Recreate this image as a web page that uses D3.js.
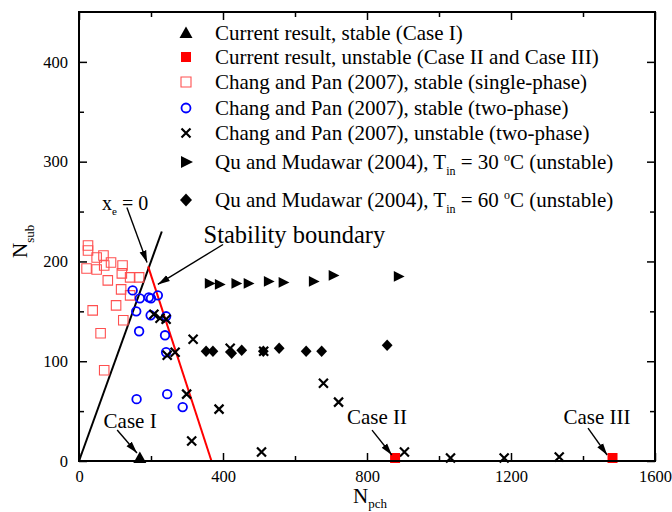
<!DOCTYPE html>
<html>
<head>
<meta charset="utf-8">
<script src="https://cdn.jsdelivr.net/npm/d3@7"></script>
<style>
body { margin: 0; background: #fff; }
text { font-family: "Liberation Serif", "Times New Roman", serif; fill: #000; }
</style>
</head>
<body>
<svg id="chart" width="672" height="512"></svg>
<script>
// ---- data ----
const xTicks = [0, 400, 800, 1200, 1600]
const yTicks = [0, 100, 200, 300, 400]

const currentStable = [[169, 3]]
const currentUnstable = [[878, 3], [1482, 3]]
const changStableSingle = [
    [25, 216], [25, 211], [21, 193], [49, 204], [49, 192], [68, 206], [70, 196],
    [89, 199], [80, 181], [121, 196], [119, 188], [142, 184], [167, 184], [117, 172],
    [142, 166], [103, 156], [38, 151], [123, 141], [60, 128], [70, 91]
]
const changStableTwo = [
    [149, 171], [169, 163], [194, 164], [200, 163], [219, 166], [159, 150], [199, 146],
    [242, 145], [167, 130], [239, 126], [242, 109], [160, 62], [245, 67], [288, 54]
]
const changUnstableTwo = [
    [208, 147], [225, 143], [242, 142], [245, 106], [267, 109], [317, 122], [299, 67],
    [389, 52], [313, 20], [507, 9], [420, 113], [513, 110], [679, 78], [721, 59],
    [904, 9], [1032, 3], [1181, 3], [1334, 4]
]
const quMudawar30 = [
    [362, 178], [390, 177], [436, 178], [470, 178], [526, 180], [567, 179],
    [651, 180], [706, 186], [887, 185]
]
const quMudawar60 = [
    [353, 110], [372, 110], [424, 108], [452, 111], [512, 110], [556, 113],
    [631, 110], [674, 110], [856, 116]
]
const xeZeroLine = [[0, 0], [230, 230]]
const stabilityLine = [[192, 195], [368, 0]]

const legendLabels = [
    [["Current result, stable (Case I)"]],
    [["Current result, unstable (Case II and Case III)"]],
    [["Chang and Pan (2007), stable (single-phase)"]],
    [["Chang and Pan (2007), stable (two-phase)"]],
    [["Chang and Pan (2007), unstable (two-phase)"]],
    [["Qu and Mudawar (2004), T"], ["in", "sub"], [" = 30 "], ["o", "sup"], ["C (unstable)"]],
    [["Qu and Mudawar (2004), T"], ["in", "sub"], [" = 60 "], ["o", "sup"], ["C (unstable)"]]
]

// annotations: text anchor + arrow (from -> to), in data units
const annotations = [
    { text: [["x"], ["e", "sub"], [" = 0"]], at: [64, 252], anchor: "start", size: 20, from: [133, 254], to: [189, 199] },
    { text: [["Stability boundary"]], at: [346, 218], anchor: "start", size: 24.5, from: [400, 217], to: [219, 177] },
    { text: [["Case I"]], at: [142, 33], anchor: "middle", size: 21, from: [106, 31], to: [161, 8] },
    { text: [["Case II"]], at: [828, 37], anchor: "middle", size: 21, from: [814, 31], to: [869, 6] },
    { text: [["Case III"]], at: [1439, 37], anchor: "middle", size: 21, from: [1414, 33], to: [1467, 6] }
]

// ---- layout ----
const svg = d3.select("#chart")
const margins = { left: 79, right: 17, top: 12, bottom: 51 }
const svgWidth = 672
const svgHeight = 512

const xScale = d3.scaleLinear().domain([0, 1600]).range([margins.left, svgWidth - margins.right])
const yScale = d3.scaleLinear().domain([0, 450]).range([svgHeight - margins.bottom, margins.top])

const shapes = {
    triUp: "M0,-6.5L6.5,5L-6.5,5Z",
    triRight: "M-5,-6L7,0L-5,6Z",
    square: "M-5,-5H5V5H-5Z",
    diamond: "M0,-6.5L6,0L0,6.5L-6,0Z",
    cross: "M-4.5,-4.5L4.5,4.5M-4.5,4.5L4.5,-4.5"
}

// writes text segments, shifting sub/superscripts and returning to the baseline after them
function addText(sel, parts, smallSize, subShift = 6, supShift = 8) {
    let back = 0
    parts.forEach(([t, mode]) => {
        const ts = sel.append("tspan").text(t)
        let shift = 0
        if (mode === "sub") shift = subShift
        if (mode === "sup") shift = -supShift
        if (shift + back !== 0) ts.attr("dy", shift + back)
        if (mode) ts.attr("font-size", smallSize)
        back = -shift
    })
}

// lines
const line = d3.line().x(d => xScale(d[0])).y(d => yScale(d[1]))
svg.append("path").datum(xeZeroLine).attr("d", line)
    .attr("stroke", "black").attr("stroke-width", 2).attr("fill", "none")
svg.append("path").datum(stabilityLine).attr("d", line)
    .attr("stroke", "#ff0000").attr("stroke-width", 2).attr("fill", "none")

// series
const series = [
    { data: changStableSingle, shape: "square", fill: "none", stroke: "#ff5050", sw: 1.1, scale: 0.95 },
    { data: changStableTwo, shape: "circle", fill: "none", stroke: "#0000ff", sw: 1.8 },
    { data: changUnstableTwo, shape: "cross", fill: "none", stroke: "black", sw: 2.2 },
    { data: quMudawar30, shape: "triRight", fill: "black", stroke: "none", sw: 0, scale: 0.9 },
    { data: quMudawar60, shape: "diamond", fill: "black", stroke: "none", sw: 0, scale: 0.9 },
    { data: currentStable, shape: "triUp", fill: "black", stroke: "none", sw: 0 },
    { data: currentUnstable, shape: "square", fill: "#ff0000", stroke: "none", sw: 0 }
]

series.forEach((s, index) => {
    const g = svg.append("g").attr("class", `series-${index}`)
    if (s.shape === "circle") {
        g.selectAll("circle").data(s.data).enter().append("circle")
            .attr("cx", d => xScale(d[0])).attr("cy", d => yScale(d[1]))
            .attr("r", 4.3).attr("fill", "none").attr("stroke", s.stroke).attr("stroke-width", s.sw)
    } else {
        g.selectAll("path").data(s.data).enter().append("path")
            .attr("d", shapes[s.shape])
            .attr("transform", d => `translate(${xScale(d[0])},${yScale(d[1])}) scale(${s.scale || 1})`)
            .attr("fill", s.fill).attr("stroke", s.stroke).attr("stroke-width", s.sw / (s.scale || 1))
    }
})

// arrowhead
svg.append("defs").append("marker")
    .attr("id", "arrow").attr("viewBox", "0 -4 12 8").attr("refX", 12).attr("refY", 0)
    .attr("markerWidth", 12).attr("markerHeight", 8).attr("markerUnits", "userSpaceOnUse")
    .attr("orient", "auto")
    .append("path").attr("d", "M0,-3.5L12,0L0,3.5Z").attr("fill", "black")

annotations.forEach(a => {
    svg.append("line")
        .attr("x1", xScale(a.from[0])).attr("y1", yScale(a.from[1]))
        .attr("x2", xScale(a.to[0])).attr("y2", yScale(a.to[1]))
        .attr("stroke", "black").attr("stroke-width", 1.4).attr("marker-end", "url(#arrow)")
    const t = svg.append("text")
        .attr("x", xScale(a.at[0])).attr("y", yScale(a.at[1]))
        .attr("text-anchor", a.anchor).attr("font-size", a.size)
    addText(t, a.text, 11, 5)
})

// axes with inward ticks, mirrored on top and right
const plotBottom = yScale(0)
const plotTop = yScale(450)
const plotLeft = xScale(0)
const plotRight = xScale(1600)

const fmt = d3.format("d")
const minorX = d3.range(200, 1600, 400)
const minorY = d3.range(50, 450, 100)

svg.append("g").attr("transform", `translate(0,${plotBottom})`)
    .call(d3.axisBottom(xScale).tickValues(xTicks).tickSizeInner(-8).tickSizeOuter(0).tickPadding(9.5).tickFormat(fmt))
svg.append("g").attr("transform", `translate(0,${plotBottom})`)
    .call(d3.axisBottom(xScale).tickValues(minorX).tickSizeInner(-5).tickSizeOuter(0).tickFormat(""))
svg.append("g").attr("transform", `translate(0,${plotTop})`)
    .call(d3.axisTop(xScale).tickValues(xTicks).tickSizeInner(-8).tickSizeOuter(0).tickFormat(""))
svg.append("g").attr("transform", `translate(0,${plotTop})`)
    .call(d3.axisTop(xScale).tickValues(minorX).tickSizeInner(-5).tickSizeOuter(0).tickFormat(""))

svg.append("g").attr("transform", `translate(${plotLeft},0)`)
    .call(d3.axisLeft(yScale).tickValues(yTicks).tickSizeInner(-8).tickSizeOuter(0).tickPadding(11).tickFormat(fmt))
svg.append("g").attr("transform", `translate(${plotLeft},0)`)
    .call(d3.axisLeft(yScale).tickValues(minorY).tickSizeInner(-5).tickSizeOuter(0).tickFormat(""))
svg.append("g").attr("transform", `translate(${plotRight},0)`)
    .call(d3.axisRight(yScale).tickValues(yTicks).tickSizeInner(-8).tickSizeOuter(0).tickFormat(""))
svg.append("g").attr("transform", `translate(${plotRight},0)`)
    .call(d3.axisRight(yScale).tickValues(minorY).tickSizeInner(-5).tickSizeOuter(0).tickFormat(""))

svg.selectAll(".domain").remove()
svg.selectAll(".tick line").attr("stroke", "black").attr("stroke-width", 1.5)
svg.selectAll(".tick text")
    .attr("font-family", "'Liberation Serif', 'Times New Roman', serif")
    .attr("font-size", 16.5).attr("fill", "black")

// frame
svg.append("rect")
    .attr("x", plotLeft).attr("y", plotTop)
    .attr("width", plotRight - plotLeft).attr("height", plotBottom - plotTop)
    .attr("fill", "none").attr("stroke", "black").attr("stroke-width", 2)

// axis titles
const xTitle = svg.append("text").attr("x", 353).attr("y", 503).attr("font-size", 21)
addText(xTitle, [["N"], ["pch", "sub"]], 13, 5)
const yTitle = svg.append("text").attr("transform", "translate(27,258) rotate(-90)").attr("font-size", 21)
addText(yTitle, [["N"], ["sub", "sub"]], 13, 7)

// legend
const legendX = 186
const legendTextX = 215
const legendRows = [33, 57, 82, 108, 133, 162, 200]
const legendMarks = [
    { shape: "triUp", fill: "black", stroke: "none" },
    { shape: "square", fill: "#ff0000", stroke: "none" },
    { shape: "square", fill: "none", stroke: "#ff5050" },
    { shape: "circle" },
    { shape: "cross", fill: "none", stroke: "black" },
    { shape: "triRight", fill: "black", stroke: "none" },
    { shape: "diamond", fill: "black", stroke: "none" }
]
const legend = svg.append("g")
legendLabels.forEach((parts, i) => {
    const y = legendRows[i]
    const m = legendMarks[i]
    if (m.shape === "circle") {
        legend.append("circle").attr("cx", legendX).attr("cy", y).attr("r", 4.5)
            .attr("fill", "none").attr("stroke", "#0000ff").attr("stroke-width", 1.8)
    } else {
        legend.append("path").attr("d", shapes[m.shape])
            .attr("transform", `translate(${legendX},${y})`)
            .attr("fill", m.fill).attr("stroke", m.stroke)
            .attr("stroke-width", m.shape === "cross" ? 2.2 : 1.1)
    }
    const t = legend.append("text").attr("x", legendTextX).attr("y", y + 7).attr("font-size", 21)
    addText(t, parts, 12, 6, 8)
})
</script>
</body>
</html>
